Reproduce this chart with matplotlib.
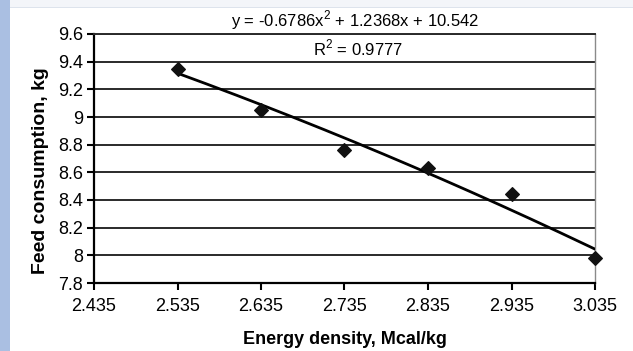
import numpy as np
import matplotlib
matplotlib.use("Agg")
import matplotlib.pyplot as plt
from matplotlib.patches import Rectangle

# Data
energy_density = [2.535, 2.635, 2.735, 2.835, 2.935, 3.035]
feed_consumption = [9.35, 9.05, 8.76, 8.63, 8.44, 7.98]
trend_coeffs = [-0.6786, 1.2368, 10.542]
x_ticks = [2.435, 2.535, 2.635, 2.735, 2.835, 2.935, 3.035]
x_tick_labels = ["2.435", "2.535", "2.635", "2.735", "2.835", "2.935", "3.035"]
y_ticks = [7.8, 8.0, 8.2, 8.4, 8.6, 8.8, 9.0, 9.2, 9.4, 9.6]
y_tick_labels = ["7.8", "8", "8.2", "8.4", "8.6", "8.8", "9", "9.2", "9.4", "9.6"]
equation_text = "y = -0.6786x$^2$ + 1.2368x + 10.542"
r2_text = "R$^2$ = 0.9777"

plt.rcParams['font.family'] = ['Liberation Sans', 'DejaVu Sans']
plt.rcParams['mathtext.fontset'] = 'custom'
plt.rcParams['mathtext.rm'] = 'Liberation Sans'

fig = plt.figure(figsize=(6.33, 3.51), dpi=100)
fig.patch.set_facecolor('white')

# decorative border strips
fig.patches.append(Rectangle((0, 0), 10/633, 1, transform=fig.transFigure,
                             facecolor='#aabfe2', edgecolor='none', zorder=0))
fig.patches.append(Rectangle((10/633, 1 - 7/351), 1, 7/351, transform=fig.transFigure,
                             facecolor='#f3f5f9', edgecolor='none', zorder=0))
fig.patches.append(Rectangle((10/633, 1 - 8/351), 1, 1.2/351, transform=fig.transFigure,
                             facecolor='#dde3ec', edgecolor='none', zorder=0))

ax = fig.add_axes([94/633, 1 - 283/351, (595 - 94)/633, (283 - 34)/351])
ax.set_xlim(2.435, 3.035)
ax.set_ylim(7.8, 9.6)

ax.set_xticks(x_ticks)
ax.set_xticklabels(x_tick_labels)
ax.set_yticks(y_ticks)
ax.set_yticklabels(y_tick_labels)
ax.tick_params(axis='both', labelsize=13, length=5, width=1.5, color='black',
               direction='out')
ax.tick_params(axis='x', pad=6)
ax.tick_params(axis='y', pad=3)

ax.grid(axis='y', color='#2a2a2a', linewidth=1.4)
ax.set_axisbelow(True)

for side in ['left', 'bottom']:
    ax.spines[side].set_color('black')
    ax.spines[side].set_linewidth(1.6)
ax.spines['right'].set_color('#8a8a8a')
ax.spines['right'].set_linewidth(1.0)
ax.spines['top'].set_color('#2a2a2a')
ax.spines['top'].set_linewidth(1.4)

# trendline
xs = np.linspace(min(energy_density), max(energy_density), 200)
ys = np.polyval(trend_coeffs, xs)
ax.plot(xs, ys, color='black', linewidth=2.0, zorder=3)

ax.scatter(energy_density, feed_consumption, marker='D', s=48, color='#111111',
           zorder=4, clip_on=False)

ax.set_xlabel("Energy density, Mcal/kg", fontsize=13, fontweight='bold')
ax.xaxis.set_label_coords(0.5, (283 - 340) / 249)
ax.xaxis.label.set_va('center')
ax.set_ylabel("Feed consumption, kg", fontsize=14, fontweight='bold')
ax.yaxis.set_label_coords((41 - 94) / 501, 1 - (171 - 34) / 249)
ax.yaxis.label.set_va('center')

fig.text(355/633, 1 - 20/351, equation_text, fontsize=12, ha='center', va='center')
fig.text(313/633, 1 - 48/351, r2_text, fontsize=12, ha='left', va='center')

fig.savefig("out.png", dpi=100)
